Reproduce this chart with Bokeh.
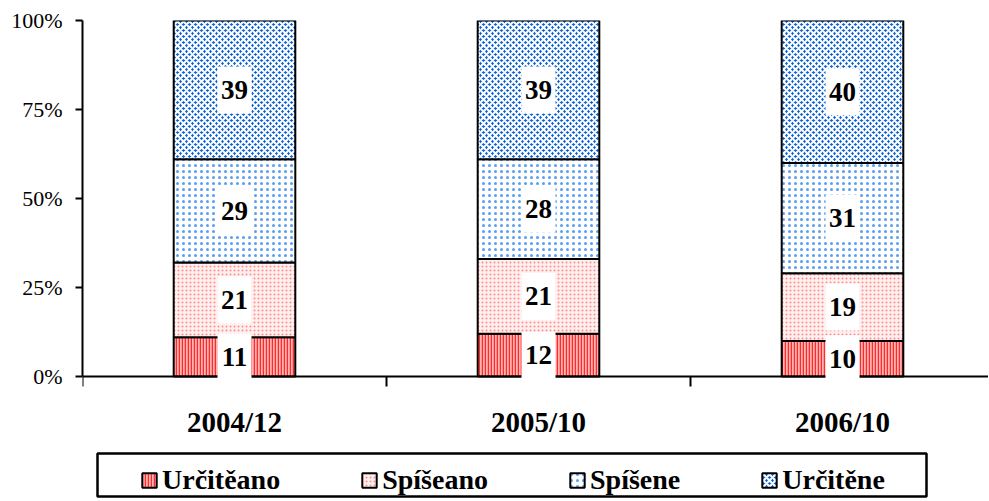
from bokeh.plotting import figure
from bokeh.models import (ColumnDataSource, FixedTicker, PrintfTickFormatter, Legend,
                          LegendItem, Range1d, BoxAnnotation)
from bokeh.core.properties import value
from bokeh.embed import file_html
from bokeh.resources import INLINE
import numpy as np

# ---- data ----
categories = ["2004/12", "2005/10", "2006/10"]
series = ["Určitěano", "Spíšeano", "Spíšene", "Určitěne"]
urciteano = [11, 12, 10]
spiseano = [21, 21, 19]
spisene = [29, 28, 31]
urcitene = [39, 39, 40]
y_ticks = [0, 25, 50, 75, 100]

values = [urciteano, spiseano, spisene, urcitene]

styles = [
    dict(fill_color="#FFB3B3", hatch_pattern="|", hatch_color="#FF2A2A", hatch_scale=3, hatch_weight=1.5),
    dict(fill_color="#FFF0F0", hatch_pattern=".", hatch_color="#FF8A8A", hatch_scale=4, hatch_weight=1),
    dict(fill_color="#FFFFFF", hatch_pattern=".", hatch_color="#5A9EEE", hatch_scale=6, hatch_weight=1),
    dict(fill_color="#0A60D0", hatch_pattern="x", hatch_color="#FFFFFF", hatch_scale=6, hatch_weight=2),
]

FONT = "Liberation Serif"
xs = list(range(len(categories)))

# layout constants (pixels)
W, H = 988, 499
LEFT, TOP = 82, 20
ZERO_Y = 376          # canvas y of the 0% line
PX_PER_CAT = 304.0
PX_PER_PCT = (ZERO_Y - TOP) / 100.0
y_min = -(H - ZERO_Y) / PX_PER_PCT
x_max = -0.5 + (W - LEFT) / PX_PER_CAT


def sx_to_x(px):
    return -0.5 + (px - LEFT) / PX_PER_CAT


def sy_to_y(py):
    return (ZERO_Y - py) / PX_PER_PCT


p = figure(width=W, height=H, output_backend="svg", toolbar_location=None,
           x_range=Range1d(-0.5, x_max), y_range=Range1d(y_min, 100),
           min_border_left=LEFT, min_border_top=TOP, min_border_bottom=0, min_border_right=0)
p.outline_line_color = None
p.xgrid.visible = False
p.ygrid.visible = False
p.background_fill_color = "white"
p.border_fill_color = "white"

items = []
label_data = dict(x=[], mid=[], label=[])
bottom = np.zeros(len(categories))
for name, vals, st in zip(series, values, styles):
    top = bottom + np.array(vals, dtype=float)
    src = ColumnDataSource(dict(x=xs, bottom=bottom.copy(), top=top.copy()))
    r = p.vbar(x="x", bottom="bottom", top="top", width=0.4, source=src,
               line_color="black", line_width=2, **st)
    items.append(LegendItem(label=name, renderers=[r]))
    label_data["x"] += xs
    label_data["mid"] += list((bottom + top) / 2)
    label_data["label"] += [str(v) for v in vals]
    bottom = top

lsrc = ColumnDataSource(label_data)
rbox = p.rect(x="x", y="mid", width=34, height=47, width_units="screen", height_units="screen",
              source=lsrc, fill_color="white", line_color=None)
rtxt = p.text(x="x", y="mid", text="label", source=lsrc, text_align="center",
              text_baseline="middle", text_font=value(FONT), text_font_style="bold",
              text_font_size="27px", text_color="black")
rbox.level = "overlay"
rtxt.level = "overlay"

# x axis (fixed at the 0% line)
xa = p.xaxis[0]
xa.fixed_location = 0
xa.ticker = FixedTicker(ticks=xs, minor_ticks=[-0.5, 0.5, 1.5, 2.5])
xa.major_label_overrides = {i: c for i, c in enumerate(categories)}
xa.major_tick_line_color = None
xa.major_tick_out = 0
xa.major_tick_in = 0
xa.minor_tick_out = 10
xa.minor_tick_in = 0
xa.minor_tick_line_width = 2
xa.minor_tick_line_color = "black"
xa.axis_line_width = 2
xa.axis_line_color = "black"
xa.major_label_text_font = FONT
xa.major_label_text_font_style = "bold"
xa.major_label_text_font_size = "29px"
xa.major_label_text_color = "black"
xa.major_label_standoff = 19

# y axis
ya = p.yaxis[0]
ya.bounds = (0, 100)
ya.ticker = FixedTicker(ticks=y_ticks, minor_ticks=[])
ya.formatter = PrintfTickFormatter(format="%d%%")
ya.major_tick_out = 7
ya.major_tick_in = 0
ya.major_tick_line_width = 2
ya.major_tick_line_color = "black"
ya.minor_tick_line_color = None
ya.axis_line_width = 2
ya.axis_line_color = "black"
ya.major_label_text_font = FONT
ya.major_label_text_font_size = "22px"
ya.major_label_text_color = "black"
ya.major_label_standoff = 13

legend = Legend(items=items, orientation="horizontal", location=(58, 3),
                glyph_width=18, glyph_height=18, label_standoff=4, spacing=80,
                padding=6, margin=0, border_line_color=None,
                background_fill_alpha=0,
                label_text_font=FONT, label_text_font_style="bold",
                label_text_font_size="28px", label_text_color="black")
p.add_layout(legend, "center")

box = BoxAnnotation(left=sx_to_x(97), right=sx_to_x(926),
                    top=sy_to_y(453), bottom=sy_to_y(496),
                    fill_alpha=0, line_color="black", line_alpha=1.0, line_width=2.5)
p.add_layout(box)

open("out.html", "w").write(file_html(p, INLINE))
